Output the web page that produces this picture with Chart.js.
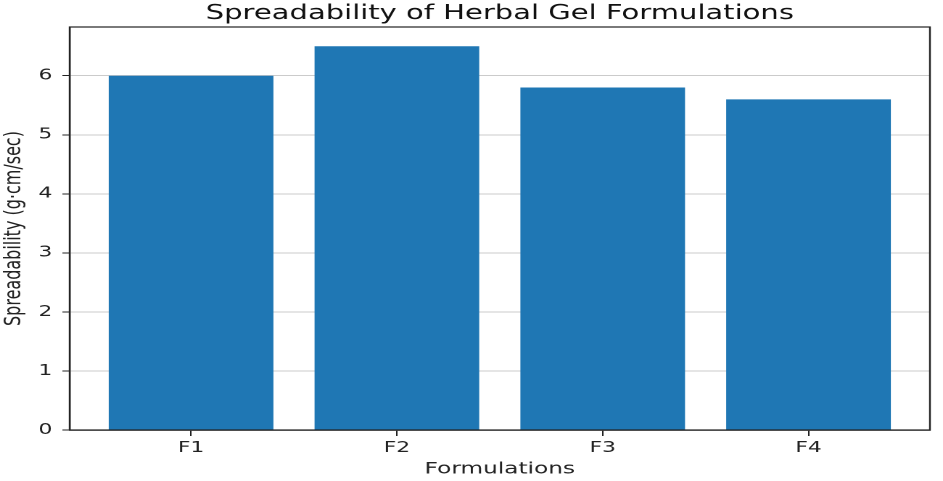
<!DOCTYPE html>
<html>
<head>
<meta charset="utf-8">
<script src="https://cdn.jsdelivr.net/npm/chart.js@4"></script>
<style>
  html, body { margin: 0; padding: 0; background: #fff; overflow: hidden; }
  /* the reference is a figure stretched sideways, so draw narrow and stretch the canvas */
  #spreadChart { display: block; width: 943px !important; height: 481px !important; }
</style>
</head>
<body>
<canvas id="spreadChart" width="650" height="481"></canvas>
<script>
// chart data
const formulations = ['F1', 'F2', 'F3', 'F4'];
const spreadability = [6.0, 6.5, 5.8, 5.6];
const yTicks = [0, 1, 2, 3, 4, 5, 6];

// box round the plot area, like matplotlib's frame
const frameBox = {
    id: 'frameBox',
    afterDraw(chart) {
        const { ctx, chartArea: a } = chart;
        ctx.save();
        ctx.strokeStyle = '#222';
        ctx.lineWidth = 1.2;
        ctx.strokeRect(a.left, a.top, a.right - a.left, a.bottom - a.top);
        ctx.restore();
    }
};

const ctx = document.getElementById('spreadChart').getContext('2d');
new Chart(ctx, {
    type: 'bar',
    data: {
        datasets: [{
            data: spreadability.map((v, i) => ({ x: i, y: v })),
            backgroundColor: '#1f77b4',
            borderWidth: 0,
            barPercentage: 0.8,
            categoryPercentage: 1.0
        }]
    },
    options: {
        responsive: false,
        devicePixelRatio: 2,
        animation: false,
        layout: { padding: { left: 0, right: 9, top: 0, bottom: 0 } },
        plugins: {
            legend: { display: false },
            tooltip: { enabled: false },
            title: {
                display: true,
                fullSize: false,
                text: 'Spreadability of Herbal Gel Formulations',
                color: '#111',
                font: { family: 'DejaVu Sans', size: 20, weight: 'normal' },
                padding: { top: 2, bottom: 1 }
            }
        },
        scales: {
            x: {
                type: 'linear',
                offset: false,
                min: -0.59,
                max: 3.59,
                afterBuildTicks: s => { s.ticks = formulations.map((c, i) => ({ value: i })); },
                afterFit: s => { s.height = 51; },
                ticks: {
                    callback: v => formulations[v],
                    color: '#222',
                    font: { family: 'DejaVu Sans', size: 15 },
                    padding: 3,
                    autoSkip: false,
                    maxRotation: 0
                },
                grid: { offset: false, drawOnChartArea: false, tickLength: 6, tickColor: '#222' },
                border: { color: '#222', width: 1.2 },
                title: {
                    display: true,
                    text: 'Formulations',
                    color: '#222',
                    font: { family: 'DejaVu Sans', size: 16 },
                    padding: { top: 2, bottom: 2 }
                }
            },
            y: {
                min: 0,
                max: 6.825,
                z: 1,
                afterBuildTicks: s => { s.ticks = yTicks.map(v => ({ value: v })); },
                afterFit: s => { s.width = 48; },
                ticks: {
                    color: '#222',
                    font: { family: 'DejaVu Sans', size: 15 },
                    padding: 7
                },
                grid: { color: 'rgba(190,190,190,0.8)', lineWidth: 1, tickLength: 5, tickColor: '#222' },
                border: { color: '#222', width: 1.2 },
                title: {
                    display: true,
                    text: 'Spreadability (g·cm/sec)',
                    color: '#222',
                    font: { family: 'DejaVu Sans', size: 16 },
                    padding: { top: 0, bottom: 0 }
                }
            }
        }
    },
    plugins: [frameBox]
});
</script>
</body>
</html>
